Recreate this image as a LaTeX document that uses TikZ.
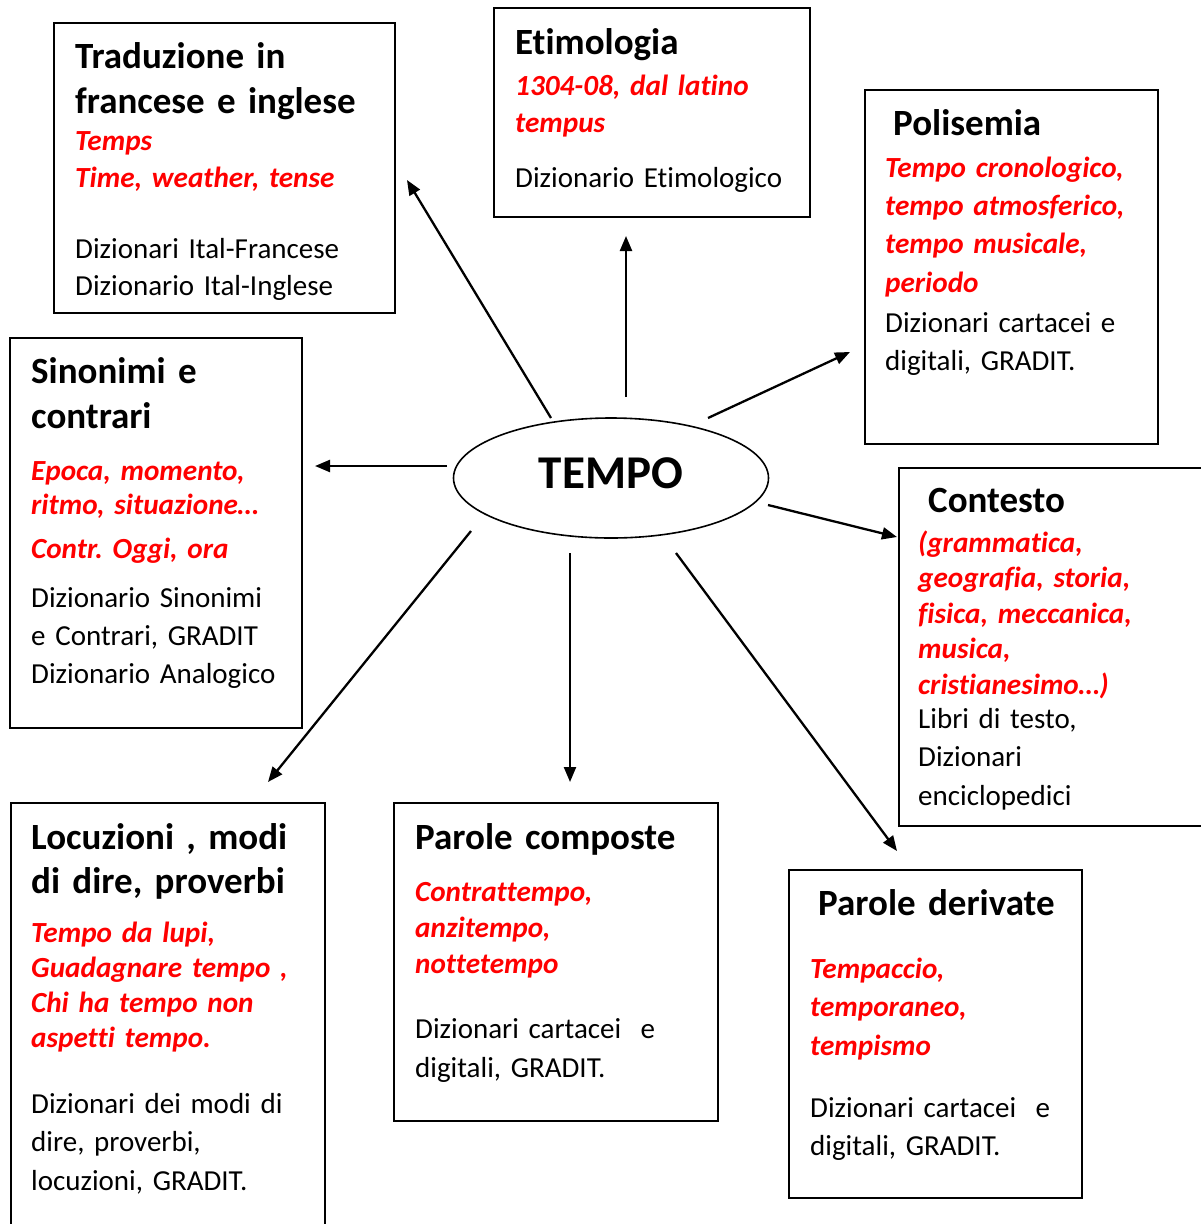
\documentclass[tikz,border=0pt]{standalone}
\usepackage{fontspec}
\setmainfont{Carlito}[Ligatures=NoCommon]
\frenchspacing
\usetikzlibrary{shapes.geometric,arrows.meta}

\tikzset{
	box/.style={draw, line width=1.8pt, inner sep=0pt, anchor=north west},
	ttl/.style={font=\fontsize{37}{#1}\selectfont\bfseries, text width=340pt, align=left, anchor=base west, inner sep=0pt},
	ttl/.default=45.5,
	ex/.style={text=red, font=\fontsize{29.2}{#1}\selectfont\bfseries\itshape, text width=340pt, align=left, anchor=base west, inner sep=0pt},
	ex/.default=36,
	src/.style={font=\fontsize{29}{#1}\selectfont, text width=340pt, align=left, anchor=base west, inner sep=0pt},
	src/.default=38.5,
	arr/.style={-{Triangle[length=15pt,width=12pt]}, line width=2.3pt},
}

\begin{document}
\begin{tikzpicture}[x=1pt, y=-1pt]
	\useasboundingbox (0,0) rectangle (1200,1224);

	\node[shape=ellipse, draw, line width=1.6pt, minimum width=315pt, minimum height=120pt, inner sep=0pt, text depth=10pt, font=\fontsize{47}{47}\selectfont\bfseries] (tempo) at (611,478) {TEMPO};

	\node[box, minimum width=341pt, minimum height=290pt] (trad) at (53,22) {};
	\node[ttl] (trad-t) at (75,68) {Traduzione in\\francese e inglese};
	\node[ex=37] (trad-r) at (75,150) {Temps\\Time, weather, tense};
	\node[src=37] (trad-d) at (75,258) {Dizionari Ital-Francese\\Dizionario Ital-Inglese};

	\node[box, minimum width=316pt, minimum height=209pt] (etim) at (493,7) {};
	\node[ttl] (etim-t) at (515,54) {Etimologia};
	\node[ex=37] (etim-r) at (515,95) {1304-08, dal latino\\tempus};
	\node[src] (etim-d) at (515,187) {Dizionario Etimologico};

	\node[box, minimum width=293pt, minimum height=354pt] (poli) at (864,89) {};
	\node[ttl] (poli-t) at (893,135) {Polisemia};
	\node[ex=38.4] (poli-r) at (885,177) {Tempo cronologico,\\tempo atmosferico,\\tempo musicale,\\periodo};
	\node[src] (poli-d) at (885,332) {Dizionari cartacei e\\digitali, GRADIT.};

	\node[box, minimum width=292pt, minimum height=390pt] (sino) at (9,337) {};
	\node[ttl] (sino-t) at (31,383) {Sinonimi e\\contrari};
	\node[ex=34] (sino-r) at (31,480) {Epoca, momento,\\ritmo, situazione…};
	\node[ex] (sino-c) at (31,558) {Contr. Oggi, ora};
	\node[src=38] (sino-d) at (31,607) {Dizionario Sinonimi\\e Contrari, GRADIT\\Dizionario Analogico};

	\node[box, minimum width=320pt, minimum height=358pt] (cont) at (898,467) {};
	\node[ttl] (cont-t) at (928,512) {Contesto};
	\node[ex=35.5] (cont-r) at (918,552) {(grammatica,\\geografia, storia,\\fisica, meccanica,\\musica,\\cristianesimo…)};
	\node[src] (cont-d) at (918,728) {Libri di testo,\\Dizionari\\enciclopedici};

	\node[box, minimum width=314pt, minimum height=440pt] (locu) at (10,802) {};
	\node[ttl=44] (locu-t) at (31,849) {Locuzioni , modi\\di dire, proverbi};
	\node[ex=35.3] (locu-r) at (31,942) {Tempo da lupi,\\Guadagnare tempo ,\\Chi ha tempo non\\aspetti tempo.};
	\node[src] (locu-d) at (31,1113) {Dizionari dei modi di\\dire, proverbi,\\locuzioni, GRADIT.};

	\node[box, minimum width=324pt, minimum height=318pt] (comp) at (393,802) {};
	\node[ttl] (comp-t) at (415,849) {Parole composte};
	\node[ex] (comp-r) at (415,901) {Contrattempo,\\anzitempo,\\nottetempo};
	\node[src=39] (comp-d) at (415,1038) {Dizionari cartacei\ \ e\\digitali, GRADIT.};

	\node[box, minimum width=293pt, minimum height=328pt] (deri) at (788,869) {};
	\node[ttl] (deri-t) at (818,915) {Parole derivate};
	\node[ex=38.5] (deri-r) at (810,978) {Tempaccio,\\temporaneo,\\tempismo};
	\node[src=38] (deri-d) at (810,1117) {Dizionari cartacei\ \ e\\digitali, GRADIT.};

	\coordinate (to-trad) at (551,418);
	\coordinate (in-trad) at (407,180);
	\coordinate (to-etim) at (626,397);
	\coordinate (in-etim) at (626,236);
	\coordinate (to-poli) at (708,418);
	\coordinate (in-poli) at (850,352);
	\coordinate (to-sino) at (447,466);
	\coordinate (in-sino) at (315,466);
	\coordinate (to-cont) at (768,505);
	\coordinate (in-cont) at (897,537);
	\coordinate (to-locu) at (471,531);
	\coordinate (in-locu) at (268,782);
	\coordinate (to-comp) at (570,553);
	\coordinate (in-comp) at (570,782);
	\coordinate (to-deri) at (676,553);
	\coordinate (in-deri) at (897,851);

	\draw[arr] (to-trad) -- (in-trad);
	\draw[arr] (to-etim) -- (in-etim);
	\draw[arr] (to-poli) -- (in-poli);
	\draw[arr] (to-sino) -- (in-sino);
	\draw[arr] (to-cont) -- (in-cont);
	\draw[arr] (to-locu) -- (in-locu);
	\draw[arr] (to-comp) -- (in-comp);
	\draw[arr] (to-deri) -- (in-deri);
\end{tikzpicture}
\end{document}
